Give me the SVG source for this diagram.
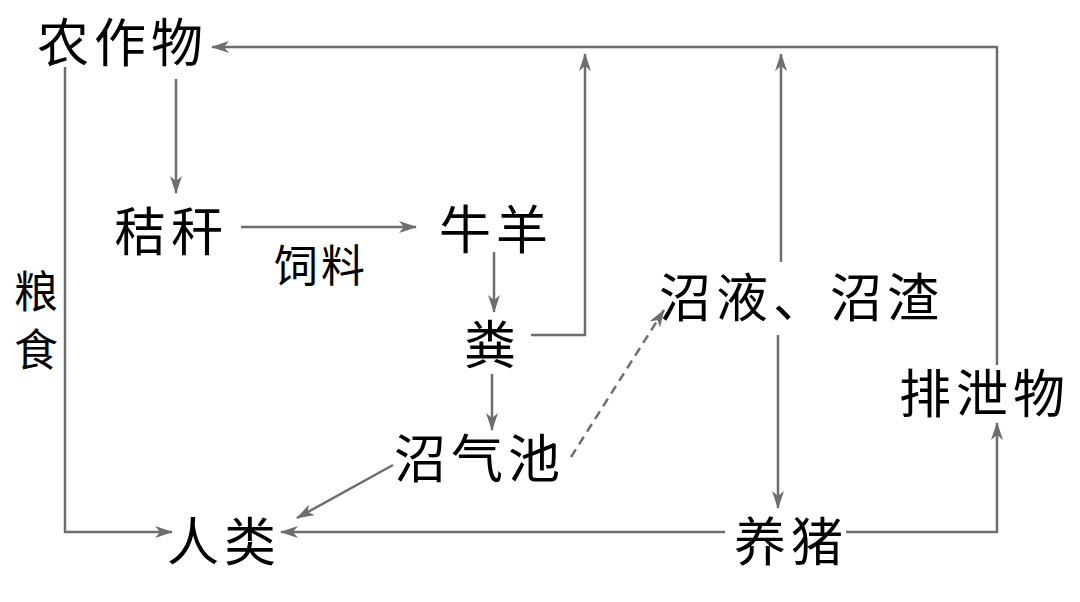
<svg xmlns="http://www.w3.org/2000/svg" width="1080" height="602" viewBox="0 0 1080 602">
<style>
text{font-family:"Noto Sans CJK SC","Noto Sans CJK JP",sans-serif;fill:#000;font-size:52px;letter-spacing:5px}
.s{font-size:44px;letter-spacing:3px}
.c{fill:none;stroke:#6e6e6e;stroke-width:2.5}
.d{stroke-dasharray:9 6}
</style>
<defs>
<marker id="a" viewBox="0 0 18 12" refX="17" refY="6" markerWidth="18" markerHeight="12" markerUnits="userSpaceOnUse" orient="auto">
<path d="M0,0 L18,6 L0,12 L5,6 Z" fill="#6e6e6e"/>
</marker>
</defs>
<rect width="1080" height="602" fill="#fff"/>
<g id="connectors">
<polyline class="c" points="997,365 997,47 212,47" marker-end="url(#a)"/>
<line class="c" x1="176" y1="79" x2="176" y2="193" marker-end="url(#a)"/>
<polyline class="c" points="65,67 65,532 172,532" marker-end="url(#a)"/>
<line class="c" x1="241" y1="227" x2="416" y2="227" marker-end="url(#a)"/>
<line class="c" x1="494" y1="252" x2="494" y2="312" marker-end="url(#a)"/>
<polyline class="c" points="531,335 585,335 585,54" marker-end="url(#a)"/>
<line class="c" x1="492" y1="374" x2="492" y2="430" marker-end="url(#a)"/>
<line class="c" x1="393" y1="465" x2="297" y2="518" marker-end="url(#a)"/>
<line class="c d" x1="571" y1="457" x2="664" y2="310" marker-end="url(#a)"/>
<line class="c" x1="781" y1="262" x2="781" y2="54" marker-end="url(#a)"/>
<line class="c" x1="778" y1="335" x2="778" y2="508" marker-end="url(#a)"/>
<polyline class="c" points="846,532 997,532 997,423" marker-end="url(#a)"/>
<line class="c" x1="725" y1="532" x2="281" y2="532" marker-end="url(#a)"/>
</g>
<g id="n-crops"><text x="37" y="62">农作物</text></g>
<g id="n-straw"><text x="114" y="251">秸秆</text></g>
<g id="l-feed"><text class="s" x="274" y="282">饲料</text></g>
<g id="n-cattle"><text x="439" y="249">牛羊</text></g>
<g id="n-dung"><text x="464" y="364">粪</text></g>
<g id="n-slurry"><text x="659" y="317">沼液、沼渣</text></g>
<g id="n-excreta"><text x="899" y="413">排泄物</text></g>
<g id="n-biogas"><text x="394" y="478">沼气池</text></g>
<g id="n-human"><text x="167" y="561">人类</text></g>
<g id="n-pig"><text x="734" y="561">养猪</text></g>
<g id="l-grain"><text class="s" x="14" y="308">粮</text><text class="s" x="14" y="366">食</text></g>
</svg>
